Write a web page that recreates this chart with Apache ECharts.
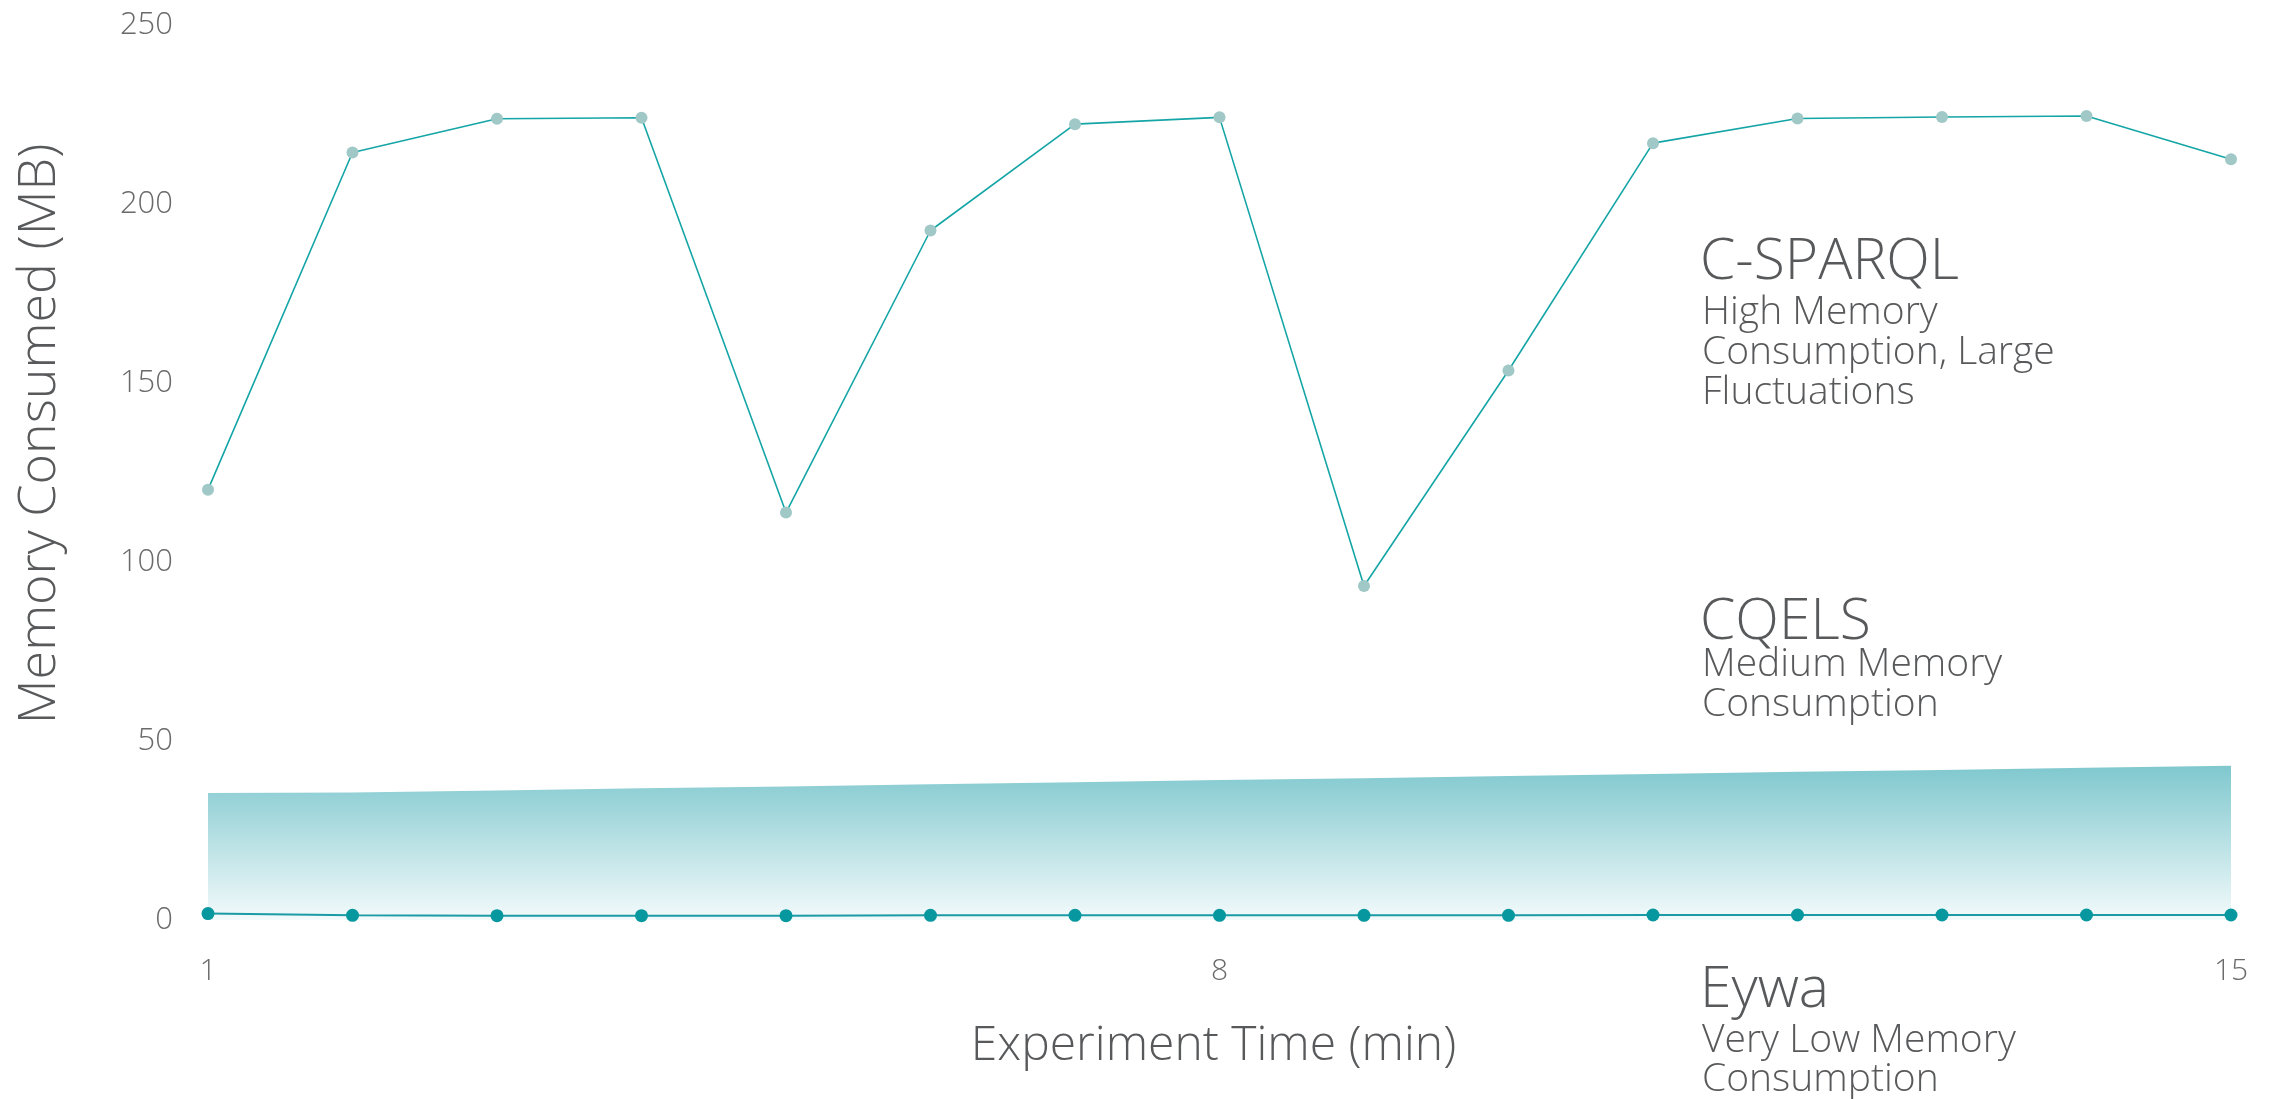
<!DOCTYPE html>
<html>
<head>
<meta charset="utf-8">
<title>Memory Consumed</title>
<script src="https://cdn.jsdelivr.net/npm/echarts@6.0.0/dist/echarts.min.js"></script>
<style>
    html, body {margin: 0; padding: 0; background: #fff;}
    #chartBox {width: 2280px; height: 1099px;}
</style>
</head>
<body>
<div id="chartBox"></div>
<script>
// experiment minutes 1..15
var minutes = ['1', '2', '3', '4', '5', '6', '7', '8', '9', '10', '11', '12', '13', '14', '15'];
var csparqlMem = [120.2, 214.4, 223.8, 224.1, 113.8, 192.6, 222.3, 224.2, 93.3, 153.5, 217.0, 223.9, 224.3, 224.6, 212.5];
var cqelsMem = [35.5, 35.6, 36.2, 36.8, 37.3, 37.9, 38.5, 39.1, 39.6, 40.2, 40.8, 41.4, 41.9, 42.5, 43.1];
var eywaMem = [1.8, 1.3, 1.2, 1.2, 1.2, 1.3, 1.3, 1.3, 1.3, 1.3, 1.4, 1.4, 1.4, 1.4, 1.4];
var yTicks = [0, 50, 100, 150, 200, 250];

var textGrey = '#58595b';
var fontName = '"Open Sans", "Noto Sans", sans-serif';

function noteText(x, y, str, size, lh) {
    return {
        type: 'text',
        left: x,
        top: y,
        style: {
            text: str,
            fill: textGrey,
            font: '300 ' + size + 'px ' + fontName,
            lineHeight: lh
        }
    };
}

function drawChart() {
    var myChart = echarts.init(document.getElementById('chartBox'));
    var option = {
        animation: false,
        backgroundColor: '#fff',
        grid: {
            left: 208,
            right: 49,
            top: 25,
            bottom: 179
        },
        xAxis: {
            type: 'category',
            boundaryGap: false,
            data: minutes,
            name: 'Experiment Time (min)',
            nameLocation: 'middle',
            nameGap: 102,
            nameTextStyle: {
                color: textGrey,
                fontFamily: fontName,
                fontWeight: 300,
                fontSize: 48,
                padding: [0, 12, 0, 0]
            },
            axisLine: {show: false},
            axisTick: {show: false},
            splitLine: {show: false},
            axisLabel: {
                interval: 6,
                margin: 36,
                color: '#6a6a6a',
                fontFamily: fontName,
                fontWeight: 300,
                fontSize: 30
            }
        },
        yAxis: {
            type: 'value',
            min: yTicks[0],
            max: yTicks[yTicks.length - 1],
            interval: 50,
            axisLine: {show: false},
            axisTick: {show: false},
            splitLine: {show: false},
            axisLabel: {
                margin: 35,
                color: '#6a6a6a',
                fontFamily: fontName,
                fontWeight: 300,
                fontSize: 31
            }
        },
        graphic: [
            {
                // y axis title sits a bit above the middle in the original
                type: 'text',
                x: 40,
                y: 434,
                rotation: Math.PI / 2,
                style: {
                    text: 'Memory Consumed (MB)',
                    fill: textGrey,
                    font: '300 52px ' + fontName,
                    textAlign: 'center',
                    textVerticalAlign: 'middle'
                }
            },
            noteText(1700, 234, 'C-SPARQL', 57),
            noteText(1702, 293, 'High Memory\nConsumption, Large\nFluctuations', 39, 40),
            noteText(1700, 594, 'CQELS', 57),
            noteText(1702, 645, 'Medium Memory\nConsumption', 39, 40),
            noteText(1700, 962, 'Eywa', 57),
            noteText(1702, 1021, 'Very Low Memory\nConsumption', 39, 39)
        ],
        series: [
            {
                name: 'CQELS',
                type: 'line',
                data: cqelsMem,
                showSymbol: false,
                lineStyle: {width: 0},
                areaStyle: {
                    opacity: 1,
                    color: new echarts.graphic.LinearGradient(0, 0, 0, 1, [
                        {offset: 0, color: '#7fc8ce'},
                        {offset: 1, color: '#f3fafb'}
                    ])
                },
                z: 1
            },
            {
                name: 'Eywa',
                type: 'line',
                data: eywaMem,
                symbol: 'circle',
                symbolSize: 13,
                lineStyle: {width: 2, color: '#1b9ba5'},
                itemStyle: {color: '#07979f'},
                z: 3
            },
            {
                name: 'C-SPARQL',
                type: 'line',
                data: csparqlMem,
                symbol: 'circle',
                symbolSize: 12,
                lineStyle: {width: 1.6, color: '#15a5a6'},
                itemStyle: {color: '#9fc8c6'},
                z: 4
            }
        ]
    };
    myChart.setOption(option);
}

drawChart();
</script>
</body>
</html>
